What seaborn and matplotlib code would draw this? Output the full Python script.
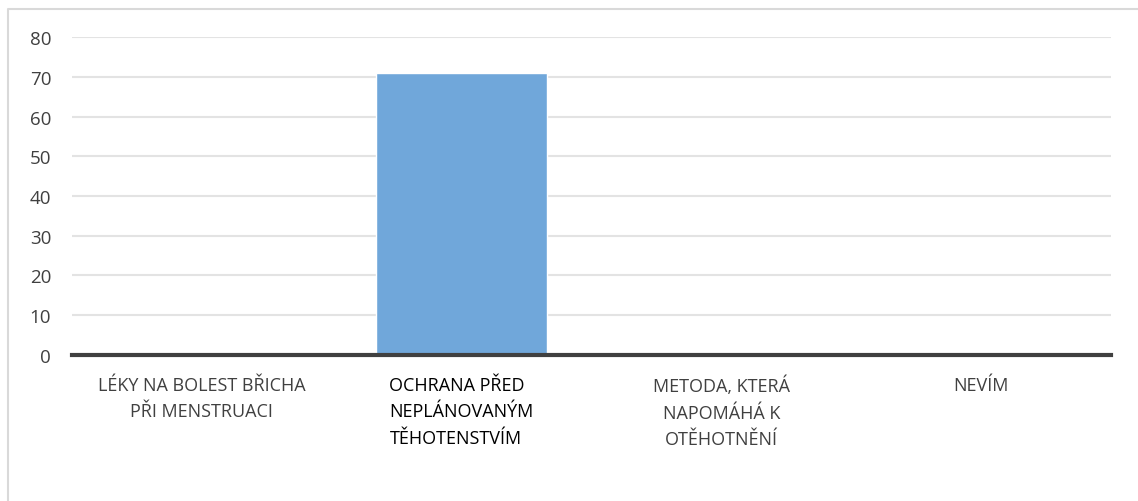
import matplotlib
matplotlib.use('Agg')
import matplotlib.pyplot as plt
import seaborn as sns
import pandas as pd
from matplotlib.lines import Line2D

# data
categories = ['LÉKY NA BOLEST BŘICHA\nPŘI MENSTRUACI',
              'OCHRANA PŘED\nNEPLÁNOVANÝM\nTĚHOTENSTVÍM',
              'METODA, KTERÁ\nNAPOMÁHÁ K\nOTĚHOTNĚNÍ',
              'NEVÍM']
values = [0, 71, 0, 0]

df = pd.DataFrame({'category': categories, 'value': values})

sns.set_style('white')
plt.rcParams['font.family'] = ['Open Sans', 'DejaVu Sans']

fig = plt.figure(figsize=(11.38, 5.02), dpi=100)
ax = fig.add_axes([0.0633, 0.291, 0.9127, 0.633])

sns.barplot(x='category', y='value', data=df, color='#70a7da', width=0.66,
            saturation=1, ax=ax, zorder=3)

ax.set_ylim(0, 80)
ax.set_yticks(range(0, 81, 10))
ax.yaxis.grid(True, color='#e3e3e3', linewidth=1.5, zorder=0)
ax.set_axisbelow(True)
for s in ['top', 'right', 'left']:
    ax.spines[s].set_visible(False)
ax.spines['bottom'].set_color('#404040')
ax.spines['bottom'].set_linewidth(3)
ax.spines['bottom'].set_zorder(4)
ax.tick_params(axis='y', length=0, labelsize=13.5, colors='#404040', pad=15)
ax.tick_params(axis='x', length=0, labelsize=13, colors='#404040', pad=15)
ax.set_xlabel('')
ax.set_ylabel('')
for lbl in ax.get_xticklabels():
    lbl.set_verticalalignment('top')
    lbl.set_multialignment('center')
    lbl.set_linespacing(1.6)
ax.get_xticklabels()[1].set_color('black')
ax.get_xticklabels()[1].set_multialignment('left')

# frame: only top and left edges visible
fig.lines.append(Line2D([8 / 1138, 8 / 1138, 1.0], [0.0, 1 - 10 / 502, 1 - 10 / 502],
                        transform=fig.transFigure, color='#d9d9d9', linewidth=1.5))

fig.savefig('out.png', dpi=100)
